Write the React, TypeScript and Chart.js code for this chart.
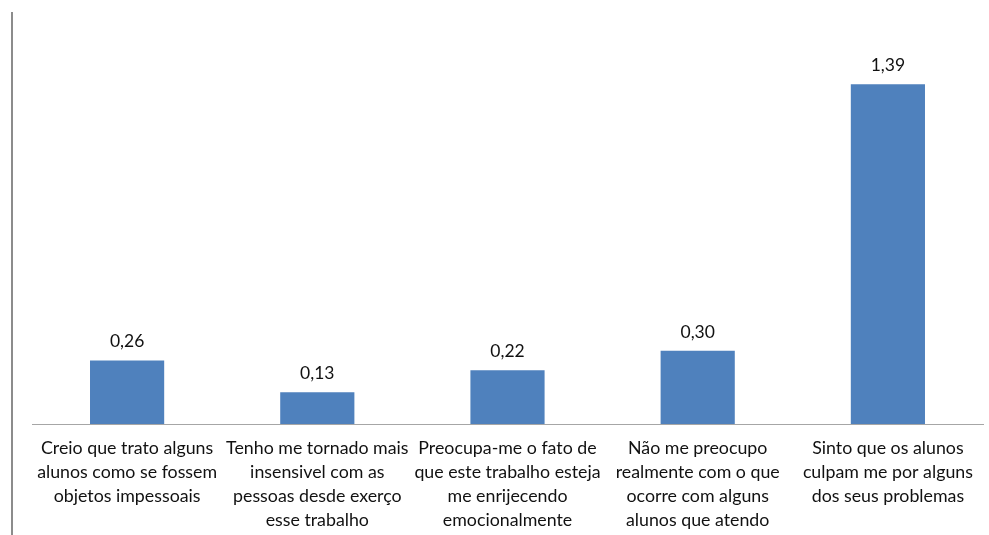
import React, { useEffect, useRef } from "react";
import { Chart, registerables } from "chart.js";

Chart.register(...registerables);

const categories: string[][] = [
  ["Creio que trato alguns", "alunos como se fossem", "objetos impessoais"],
  ["Tenho me tornado mais", "insensivel com as", "pessoas desde exerço", "esse trabalho"],
  ["Preocupa-me o fato de", "que este trabalho esteja", "me enrijecendo", "emocionalmente"],
  ["Não me preocupo", "realmente com o que", "ocorre com alguns", "alunos que atendo"],
  ["Sinto que os alunos", "culpam me por alguns", "dos seus problemas"],
];
const values: number[] = [0.26, 0.13, 0.22, 0.3, 1.39];
const yMin = 0;
const yMax = 1.6;

const FONT = "Lato, 'Open Sans', sans-serif";

const valueLabels = {
  id: "valueLabels",
  afterDatasetsDraw(chart: any) {
    const ctx = chart.ctx;
    const meta = chart.getDatasetMeta(0);
    ctx.save();
    ctx.font = `17.5px ${FONT}`;
    ctx.fillStyle = "#111";
    ctx.textAlign = "center";
    ctx.textBaseline = "bottom";
    meta.data.forEach((bar: any, i: number) => {
      const v = chart.data.datasets[0].data[i] as number;
      ctx.fillText(v.toFixed(2).replace(".", ","), bar.x, bar.y - 10);
    });
    ctx.restore();
  },
};

const leftLine = {
  id: "leftLine",
  beforeDraw(chart: any) {
    const ctx = chart.ctx;
    ctx.save();
    ctx.strokeStyle = "#8c8c8c";
    ctx.lineWidth = 2;
    ctx.beginPath();
    ctx.moveTo(12, 12);
    ctx.lineTo(12, chart.height);
    ctx.stroke();
    ctx.restore();
  },
};

export default function App() {
  const ref = useRef<HTMLCanvasElement>(null);
  useEffect(() => {
    if (!ref.current) return;
    const chart = new Chart(ref.current, {
      type: "bar",
      data: {
        labels: categories,
        datasets: [
          {
            data: values,
            backgroundColor: "#4F81BD",
            borderWidth: 0,
            barPercentage: 0.39,
            categoryPercentage: 1,
          },
        ],
      },
      options: {
        animation: false,
        responsive: false,
        maintainAspectRatio: false,
        layout: { padding: { left: 32, right: 6, top: 33, bottom: 0 } },
        plugins: { legend: { display: false }, tooltip: { enabled: false } },
        scales: {
          x: {
            grid: { display: false, drawTicks: false },
            border: { display: true, color: "#a6a6a6", width: 1 },
            ticks: {
              padding: 12,
              color: "#111",
              font: { family: FONT, size: 17.8, lineHeight: 1.36 },
              maxRotation: 0,
              autoSkip: false,
            },
            afterFit(scale: any) {
              scale.height = 111;
            },
          },
          y: {
            display: false,
            min: yMin,
            max: yMax,
          },
        },
      },
      plugins: [valueLabels, leftLine],
    });
    return () => chart.destroy();
  }, []);
  return (
    <canvas
      ref={ref}
      width={989}
      height={535}
      style={{ position: "fixed", left: 0, top: 0, width: 989, height: 535, background: "#fff" }}
    />
  );
}
